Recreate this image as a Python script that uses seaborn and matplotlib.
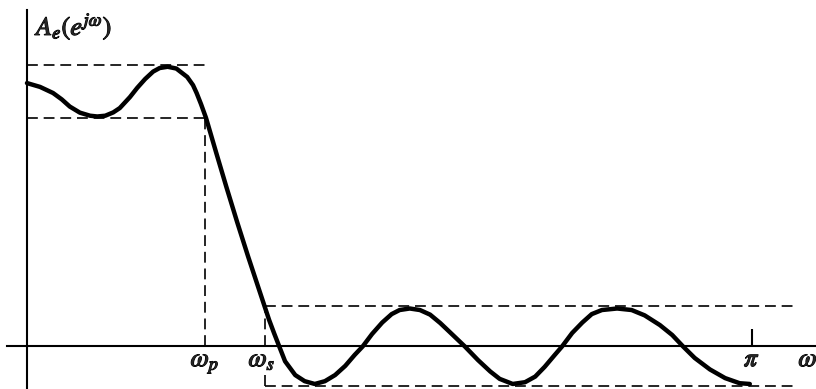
import numpy as np
import pandas as pd
import seaborn as sns
import matplotlib.pyplot as plt
import matplotlib.patheffects as pe

# frequency in units of pi, amplitude A_e(e^{jw})
omega_pi = [0.000, 0.018, 0.036, 0.048, 0.059, 0.073, 0.087, 0.097, 0.108, 0.119,
            0.128, 0.142, 0.152, 0.163, 0.174, 0.183, 0.194, 0.206, 0.221, 0.229,
            0.234, 0.240, 0.247, 0.261, 0.275, 0.290, 0.305, 0.320, 0.334, 0.341,
            0.348, 0.356, 0.370, 0.383, 0.397, 0.411, 0.425, 0.439, 0.452, 0.463,
            0.476, 0.490, 0.503, 0.514, 0.528, 0.542, 0.556, 0.570, 0.583, 0.604,
            0.622, 0.639, 0.652, 0.670, 0.687, 0.701, 0.714, 0.728, 0.738, 0.752,
            0.766, 0.779, 0.793, 0.814, 0.834, 0.852, 0.873, 0.890, 0.905, 0.921,
            0.942, 0.963, 0.983, 0.997]
amp = [1.033, 1.018, 0.994, 0.969, 0.941, 0.917, 0.905, 0.902, 0.905, 0.918,
       0.935, 0.978, 1.014, 1.049, 1.078, 1.092, 1.097, 1.090, 1.057, 1.025,
       0.994, 0.951, 0.896, 0.760, 0.626, 0.487, 0.353, 0.224, 0.104, 0.051,
       0.000, -0.058, -0.112, -0.136, -0.147, -0.136, -0.112, -0.076, -0.033, 0.000,
       0.049, 0.094, 0.127, 0.143, 0.149, 0.143, 0.125, 0.092, 0.057, 0.000,
       -0.053, -0.098, -0.127, -0.147, -0.140, -0.118, -0.080, -0.033, 0.000, 0.053,
       0.094, 0.127, 0.143, 0.149, 0.143, 0.122, 0.084, 0.045, 0.000, -0.045,
       -0.090, -0.124, -0.144, -0.147]

# tolerance scheme
wp_pi = 0.2455
ws_pi = 0.328
delta1 = 0.103
delta2_hi = 0.157
delta2_lo = 0.155
stop_end_pi = 1.056

df = pd.DataFrame({"omega": np.array(omega_pi) * np.pi, "A": amp})
wp = wp_pi * np.pi
ws = ws_pi * np.pi
pi_ = np.pi

sns.set_theme(style="white")
plt.rcParams["mathtext.fontset"] = "stix"

fig = plt.figure(figsize=(8.16, 3.89), dpi=100)
ax = fig.add_axes([0, 0, 1, 1])
ax.set_xlim(-0.0372 * pi_, 1.0883 * pi_)
ax.set_ylim(-0.1667, 1.3588)
ax.set_xticks([])
ax.set_yticks([])

# axes drawn as spines through the origin
for s in ["top", "right"]:
    ax.spines[s].set_visible(False)
ax.spines["left"].set_position(("data", 0))
ax.spines["bottom"].set_position(("data", 0))
ax.spines["left"].set_bounds(-0.1667, 1.32)
ax.spines["bottom"].set_bounds(-0.0276 * pi_, 1.0883 * pi_)
for s in ["left", "bottom"]:
    ax.spines[s].set_color("black")
    ax.spines[s].set_linewidth(1.5)

dash = dict(color="black", lw=1.2, linestyles=(0, (6.5, 3.5)))
# passband limits
ax.hlines([1 + delta1, 1 - delta1], 0, wp, **dash)
ax.vlines(wp, 0, 1 - delta1, **dash)
# stopband limits
ax.hlines(delta2_hi, ws, stop_end_pi * pi_, **dash)
ax.hlines(-delta2_lo, ws, stop_end_pi * pi_, **dash)
ax.vlines(ws, 0, delta2_hi, **dash)
ax.vlines(ws, -delta2_lo, -0.11, color="black", lw=1.2)
# tick at pi
ax.vlines(pi_, 0, 0.069, color="black", lw=1.5)

sns.lineplot(data=df, x="omega", y="A", sort=False, color="black", lw=3.2,
             ax=ax, solid_capstyle="round", solid_joinstyle="round")

fs = 19
heavy = [pe.withStroke(linewidth=0.8, foreground="black")]
ax.text(0.0124 * pi_, 1.222, r"$A_e(e^{j\omega})$", fontsize=fs, ha="left",
        va="baseline", path_effects=heavy)
ax.text(wp, -0.077, r"$\omega_p$", fontsize=fs, ha="center", va="baseline", path_effects=heavy)
ax.text(ws - 0.004 * pi_, -0.077, r"$\omega_s$", fontsize=fs, ha="center", va="baseline",
        path_effects=heavy)
ax.text(pi_, -0.077, r"$\pi$", fontsize=fs, ha="center", va="baseline", path_effects=heavy)
ax.text(1.064 * pi_, -0.077, r"$\omega$", fontsize=fs, ha="left", va="baseline",
        path_effects=heavy)
ax.set_xlabel("")
ax.set_ylabel("")

fig.savefig("out.png", dpi=100)
